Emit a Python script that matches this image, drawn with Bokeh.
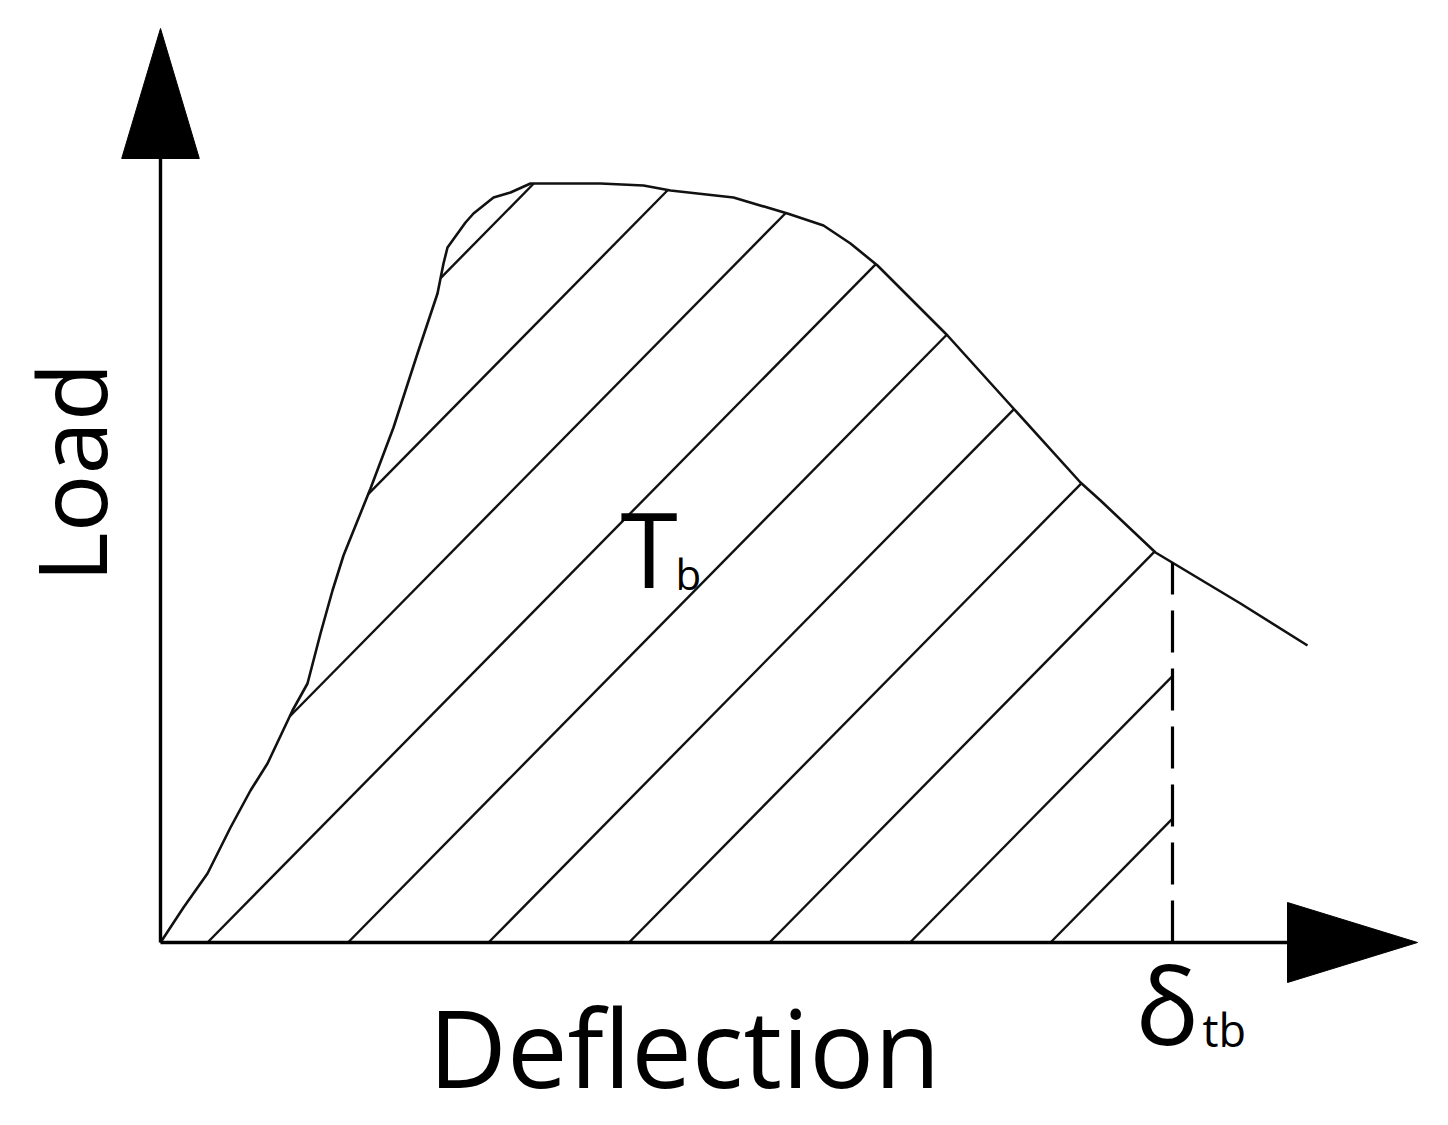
import numpy as np
from bokeh.plotting import figure
from bokeh.models import Range1d
from bokeh.core.properties import value
from bokeh.embed import file_html
from bokeh.resources import INLINE

# ---- data (arbitrary units, schematic load-deflection curve) ----
deflection = [0.00, 0.23, 0.47, 0.70, 0.90, 1.07, 1.32, 1.47, 1.60, 1.72, 1.83,
              2.10, 2.33, 2.57, 2.77, 2.83, 2.87, 3.05, 3.13, 3.33, 3.50, 3.70,
              4.40, 4.83, 5.10, 5.73, 6.27, 6.63, 6.90, 7.17, 7.87, 8.53, 9.20,
              9.40, 9.95, 10.80, 11.47]
load = [0.00, 0.35, 0.69, 1.15, 1.52, 1.79, 2.32, 2.59, 3.09, 3.52, 3.87,
        4.54, 5.15, 5.89, 6.49, 6.79, 6.95, 7.20, 7.29, 7.45, 7.50, 7.59,
        7.59, 7.57, 7.52, 7.45, 7.29, 7.17, 6.99, 6.77, 6.07, 5.34, 4.60,
        4.42, 3.90, 3.39, 2.97]
delta_tb = 10.12          # deflection at which toughness is evaluated
x_axis_end = 12.57        # tip of the deflection arrow
y_axis_end = 9.14         # tip of the load arrow

x_label = "Deflection"
y_label = "Load"
area_label = ("T", "b")
delta_label = ("δ", "tb")

# ---- styles ----
HEAD_LEN = 1.30
HEAD_HALF = 0.40
HATCH_START = 0.47
HATCH_SPACING = 1.405
HATCH_SLOPE = 1.015
FONT = "Open Sans"
BL = 0.0041   # baseline compensation (data units per px of font size)

p = figure(width=1444, height=1122, x_range=Range1d(-1.60, 12.84),
           y_range=Range1d(-1.80, 9.42), x_axis_type=None, y_axis_type=None,
           toolbar_location=None, output_backend="svg", title=None,
           min_border=0, background_fill_color="white",
           border_fill_color="white")
p.outline_line_color = None

xd = np.array(deflection)
yd = np.array(load)

# hatch lines inside the area under the curve, up to delta_tb
xs_fine = np.linspace(0.0, delta_tb, 40001)
cy = np.interp(xs_fine, xd, yd)
hx, hy = [], []
k_min = int(np.floor((HATCH_START - 6.0) / HATCH_SPACING))
for k in range(k_min, 20):
    c = HATCH_START + k * HATCH_SPACING
    if c >= delta_tb:
        break
    ly = HATCH_SLOPE * (xs_fine - c)
    inside = (ly >= -1e-9) & (ly <= cy)
    if not inside.any():
        continue
    idx = np.where(inside)[0]
    breaks = np.where(np.diff(idx) > 1)[0]
    starts = np.concatenate(([idx[0]], idx[breaks + 1]))
    ends = np.concatenate((idx[breaks], [idx[-1]]))
    for s, e in zip(starts, ends):
        if e - s < 2:
            continue
        hx.append([xs_fine[s], xs_fine[e]])
        hy.append([max(ly[s], 0.0), ly[e]])

p.multi_line(hx, hy, line_color="#111111", line_width=2.4)

# curve
p.line(xd, yd, line_color="#111111", line_width=2.6, line_join="round")

# dashed line at delta_tb
p.line([delta_tb, delta_tb], [0, float(np.interp(delta_tb, xd, yd))],
       line_color="black", line_width=3.2, line_dash="42 16")

# axes with arrowheads
p.line([0, x_axis_end - HEAD_LEN + 0.01], [0, 0], line_color="black", line_width=3.4)
p.line([0, 0], [0, y_axis_end - HEAD_LEN + 0.01], line_color="black", line_width=3.4)
p.patches(
    [[x_axis_end, x_axis_end - HEAD_LEN, x_axis_end - HEAD_LEN],
     [0, -HEAD_HALF * 0.97, HEAD_HALF * 0.97]],
    [[0, HEAD_HALF, -HEAD_HALF],
     [y_axis_end, y_axis_end - HEAD_LEN, y_axis_end - HEAD_LEN]],
    fill_color="black", line_color="black", line_width=1)


def label(x, y, txt, size, angle=0.0, align="left"):
    # y (or x when rotated) is the wanted alphabetic baseline
    if angle:
        x = x - BL * size
    else:
        y = y + BL * size
    p.text(x=[x], y=[y], text=[txt], angle=angle, text_font=value(FONT),
           text_font_size=f"{size}px", text_align=align,
           text_baseline="alphabetic", text_color="black")


label(5.24, -1.48, x_label, 108, align="center")
label(-0.52, 4.70, y_label, 96, angle=np.pi / 2, align="center")
label(4.60, 3.52, area_label[0], 104)
label(5.15, 3.52, area_label[1], 42)
label(9.75, -1.05, delta_label[0], 106)
label(10.42, -1.05, delta_label[1], 45)

open("out.html", "w").write(file_html(p, INLINE))
